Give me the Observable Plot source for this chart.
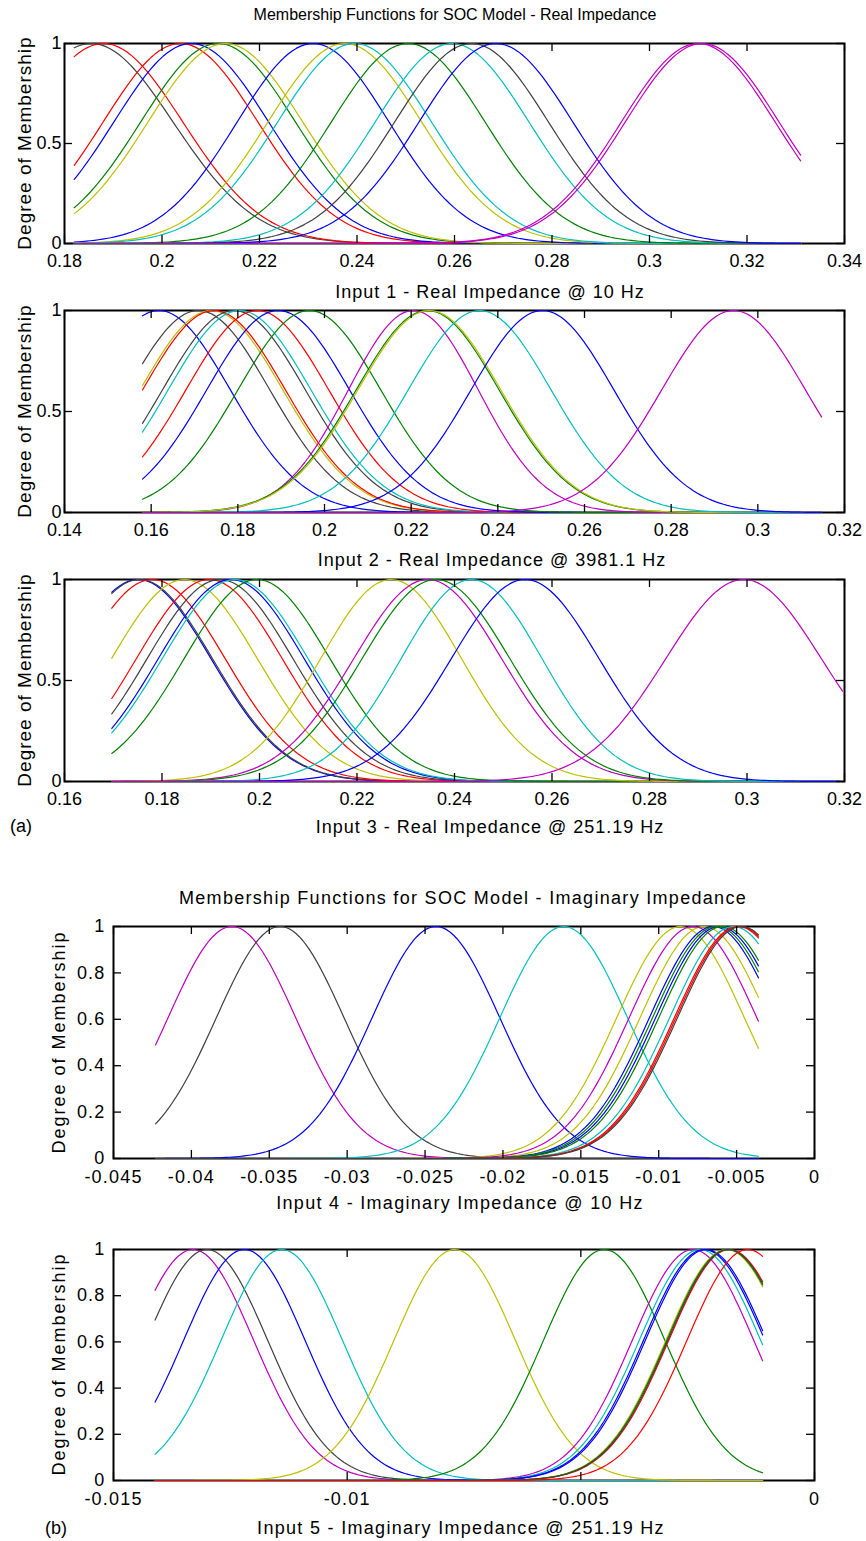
<!DOCTYPE html>
<html>
<head>
<meta charset="utf-8">
<script src="https://cdn.jsdelivr.net/npm/d3@7"></script>
<script src="https://cdn.jsdelivr.net/npm/@observablehq/plot@0.6"></script>
<style>
  body { margin: 0; background: #fff; }
  #fig { position: relative; width: 866px; height: 1541px; background: #fff; overflow: hidden;
         font-family: "Liberation Sans", Arial, Helvetica, sans-serif; color: #000; }
  #fig svg { position: absolute; left: 0; }
  .lbl { position: absolute; white-space: nowrap; line-height: 1; transform: translate(-50%, -50%); }
  .ylbl { position: absolute; white-space: nowrap; line-height: 1; transform: translate(-50%, -50%) rotate(-90deg); }
</style>
</head>
<body>
<div id="fig"></div>
<script>
// ---------------- DATA ----------------
// MATLAB-style colour categories of each membership function
const colorKeys = ["b", "g", "r", "c", "m", "y", "k"];

// Input 1 - Real Impedance @ 10 Hz : Gaussian MF centres / widths / colour
const in1Range   = [0.182, 0.331];
const in1Centers = [0.1855, 0.188, 0.2038, 0.206, 0.2115, 0.213, 0.231, 0.2375, 0.2395, 0.2505, 0.2595, 0.2635, 0.2685, 0.3100, 0.3108];
const in1Sigmas  = [0.0168, 0.0163, 0.0159, 0.0159, 0.0159, 0.0159, 0.0156, 0.0158, 0.0158, 0.0158, 0.0158, 0.0158, 0.0158, 0.0158, 0.0158];
const in1Colors  = ["k", "r", "r", "b", "g", "y", "b", "y", "c", "g", "c", "k", "b", "m", "m"];
const in1XTicks  = [0.18, 0.2, 0.22, 0.24, 0.26, 0.28, 0.3, 0.32, 0.34];
const in1XLabels = ["0.18", "0.2", "0.22", "0.24", "0.26", "0.28", "0.3", "0.32", "0.34"];

// Input 2 - Real Impedance @ 3981.1 Hz
const in2Range   = [0.158, 0.3147];
const in2Centers = [0.1618, 0.1709, 0.1739, 0.1745, 0.1791, 0.1804, 0.1845, 0.1893, 0.1965, 0.2205, 0.2238, 0.2242, 0.2358, 0.2503, 0.2944];
const in2Sigmas  = [0.0165, 0.0165, 0.0165, 0.0165, 0.0165, 0.0165, 0.0165, 0.0165, 0.0165, 0.0150, 0.0165, 0.0165, 0.0165, 0.0165, 0.0166];
const in2Colors  = ["b", "k", "y", "r", "k", "c", "r", "b", "g", "m", "g", "y", "c", "b", "m"];
const in2XTicks  = [0.14, 0.16, 0.18, 0.2, 0.22, 0.24, 0.26, 0.28, 0.3, 0.32];
const in2XLabels = ["0.14", "0.16", "0.18", "0.2", "0.22", "0.24", "0.26", "0.28", "0.3", "0.32"];

// Input 3 - Real Impedance @ 251.19 Hz
const in3Range   = [0.1697, 0.3196];
const in3Centers = [0.1751, 0.1754, 0.1780, 0.1846, 0.1897, 0.1919, 0.1942, 0.1950, 0.1995, 0.2270, 0.2345, 0.2362, 0.2435, 0.2545, 0.2993];
const in3Sigmas  = [0.0150, 0.0150, 0.0150, 0.0150, 0.0150, 0.0150, 0.0150, 0.0150, 0.0150, 0.0145, 0.0152, 0.0152, 0.0145, 0.0152, 0.0160];
const in3Colors  = ["b", "k", "r", "y", "r", "k", "b", "c", "g", "y", "m", "g", "c", "b", "m"];
const in3XTicks  = [0.16, 0.18, 0.2, 0.22, 0.24, 0.26, 0.28, 0.3, 0.32];
const in3XLabels = ["0.16", "0.18", "0.2", "0.22", "0.24", "0.26", "0.28", "0.3", "0.32"];

const realYTicks  = [0, 0.5, 1];
const realYLabels = ["0", "0.5", "1"];

// Input 4 - Imaginary Impedance @ 10 Hz
const in4Range   = [-0.0423, -0.0036];
const in4Centers = [-0.0374, -0.0343, -0.0243, -0.0161, -0.0086, -0.0071, -0.0078, -0.0065, -0.0061, -0.0063, -0.0059, -0.0052, -0.0049, -0.0048, -0.0047];
const in4Sigmas  = [0.0041, 0.0041, 0.0041, 0.0041, 0.0041, 0.0041, 0.0041, 0.0041, 0.0041, 0.0041, 0.0041, 0.0041, 0.0041, 0.0041, 0.0041];
const in4Colors  = ["m", "k", "b", "c", "y", "y", "m", "b", "b", "g", "g", "c", "r", "r", "k"];
const in4XTicks  = [-0.045, -0.04, -0.035, -0.03, -0.025, -0.02, -0.015, -0.01, -0.005, 0];
const in4XLabels = ["-0.045", "-0.04", "-0.035", "-0.03", "-0.025", "-0.02", "-0.015", "-0.01", "-0.005", "0"];

// Input 5 - Imaginary Impedance @ 251.19 Hz
const in5Range   = [-0.01411, -0.00111];
const in5Centers = [-0.0133, -0.0130, -0.0122, -0.0114, -0.0077, -0.0045, -0.00182, -0.0026, -0.00245, -0.00236, -0.00232, -0.00188, -0.00186, -0.00184, -0.00143];
const in5Sigmas  = [0.0013, 0.0013, 0.0013, 0.0013, 0.0013, 0.0013, 0.0013, 0.0013, 0.0013, 0.0013, 0.0013, 0.0013, 0.0013, 0.0013, 0.0013];
const in5Colors  = ["m", "k", "b", "c", "y", "g", "r", "m", "c", "b", "b", "y", "g", "k", "r"];
const in5XTicks  = [-0.015, -0.01, -0.005, 0];
const in5XLabels = ["-0.015", "-0.01", "-0.005", "0"];

const imagYTicks  = [0, 0.2, 0.4, 0.6, 0.8, 1];
const imagYLabels = ["0", "0.2", "0.4", "0.6", "0.8", "1"];

const titleReal  = "Membership Functions for SOC Model - Real Impedance";
const titleImag  = "Membership Functions for SOC Model - Imaginary Impedance";
const xTitles    = ["Input 1 - Real Impedance @ 10 Hz", "Input 2 - Real Impedance @ 3981.1 Hz",
                    "Input 3 - Real Impedance @ 251.19 Hz", "Input 4 - Imaginary Impedance @ 10 Hz",
                    "Input 5 - Imaginary Impedance @ 251.19 Hz"];
const yTitle     = "Degree of Membership";
const partLabels = ["(a)", "(b)"];

// ---------------- STYLE ----------------
const colorValues = ["#0000ff", "#008000", "#ff0000", "#00bfbf", "#bf00bf", "#bfbf00", "#404040"];
const FONT = "'Liberation Sans', Arial, Helvetica, sans-serif";
const fig = document.getElementById("fig");
const W = 866;

function gaussRows(range, centers, sigmas, colors) {
  const rows = [];
  const n = 181; // sampling of each MF curve over the input range (as in plotmf)
  centers.forEach((c, i) => {
    for (let j = 0; j < n; j++) {
      const x = range[0] + (range[1] - range[0]) * j / (n - 1);
      rows.push({id: i, x, y: Math.exp(-((x - c) ** 2) / (2 * sigmas[i] ** 2)), col: colors[i]});
    }
  });
  return rows;
}

function panel(p) {
  const mT = 12, mB = 40;
  const fw = p.right - p.left, fh = p.bottom - p.top;
  const H = fh + mT + mB;
  const rows = gaussRows(p.range, p.centers, p.sigmas, p.colors);
  const xd = [p.xTicks[0], p.xTicks[p.xTicks.length - 1]];
  const svg = Plot.plot({
    width: W, height: H,
    marginTop: mT, marginBottom: mB, marginLeft: p.left, marginRight: W - p.right,
    x: {domain: xd},
    y: {domain: [0, 1]},
    color: {domain: colorKeys, range: colorValues},
    style: {fontFamily: FONT, fontSize: p.fontSize + "px", background: "transparent",
            overflow: "visible", letterSpacing: p.ls + "px", color: "#000"},
    marks: [
      Plot.frame({stroke: "#000", strokeWidth: 2}),
      Plot.line(rows, {x: "x", y: "y", z: "id", stroke: "col", strokeWidth: 1.2}),
      Plot.tickX(p.xTicks, {x: d => d, insetTop: fh - 8, stroke: "#000", strokeWidth: 1.3}),
      Plot.tickX(p.xTicks, {x: d => d, insetBottom: fh - 8, stroke: "#000", strokeWidth: 1.3}),
      Plot.tickY(p.yTicks, {y: d => d, insetRight: fw - 8, stroke: "#000", strokeWidth: 1.3}),
      Plot.tickY(p.yTicks, {y: d => d, insetLeft: fw - 8, stroke: "#000", strokeWidth: 1.3}),
      Plot.axisX(p.xTicks, {tickSize: 0, tickPadding: p.xPad, label: null, fontSize: p.fontSize,
                            tickFormat: d => p.xLabels[p.xTicks.indexOf(d)]}),
      Plot.axisY(p.yTicks, {tickSize: 0, tickPadding: p.yPad, label: null, fontSize: p.fontSize,
                            tickFormat: d => p.yLabels[p.yTicks.indexOf(d)]})
    ]
  });
  svg.style.top = (p.top - mT) + "px";
  fig.appendChild(svg);
}

function label(text, x, y, size, ls, rotated) {
  const d = document.createElement("div");
  d.className = rotated ? "ylbl" : "lbl";
  d.textContent = text;
  d.style.left = x + "px";
  d.style.top = y + "px";
  d.style.fontSize = size + "px";
  d.style.letterSpacing = ls + "px";
  fig.appendChild(d);
}

// ---------------- PANELS ----------------
const realBox = {left: 64, right: 844, fontSize: 18, ls: 0, xPad: 11, yPad: 3, yTicks: realYTicks, yLabels: realYLabels};
const imagBox = {left: 113, right: 814, fontSize: 18, ls: 1.2, xPad: 12, yPad: 8, yTicks: imagYTicks, yLabels: imagYLabels};

panel({...realBox, top: 43, bottom: 243, range: in1Range, centers: in1Centers, sigmas: in1Sigmas, colors: in1Colors, xTicks: in1XTicks, xLabels: in1XLabels});
panel({...realBox, top: 310, bottom: 512, range: in2Range, centers: in2Centers, sigmas: in2Sigmas, colors: in2Colors, xTicks: in2XTicks, xLabels: in2XLabels});
panel({...realBox, top: 579, bottom: 781, range: in3Range, centers: in3Centers, sigmas: in3Sigmas, colors: in3Colors, xTicks: in3XTicks, xLabels: in3XLabels});
panel({...imagBox, top: 926, bottom: 1158, range: in4Range, centers: in4Centers, sigmas: in4Sigmas, colors: in4Colors, xTicks: in4XTicks, xLabels: in4XLabels});
panel({...imagBox, top: 1249, bottom: 1480, range: in5Range, centers: in5Centers, sigmas: in5Sigmas, colors: in5Colors, xTicks: in5XTicks, xLabels: in5XLabels});

// ---------------- TEXT ----------------
label(titleReal, 455, 15, 16, 0);
label(xTitles[0], 490, 292, 18, 1);
label(xTitles[1], 492, 560, 18, 1);
label(xTitles[2], 490, 827, 18, 1);
label(partLabels[0], 21, 826, 18, 0);
label(titleImag, 463, 898, 18, 1.3);
label(xTitles[3], 460, 1203, 18, 1.3);
label(xTitles[4], 461, 1528, 18, 1.3);
label(partLabels[1], 56, 1528, 18, 0);
label(yTitle, 24, 143, 19, 1, true);
label(yTitle, 24, 411, 19, 1, true);
label(yTitle, 24, 680, 19, 1, true);
label(yTitle, 59, 1042, 18, 2, true);
label(yTitle, 59, 1364, 18, 2, true);
</script>
</body>
</html>
